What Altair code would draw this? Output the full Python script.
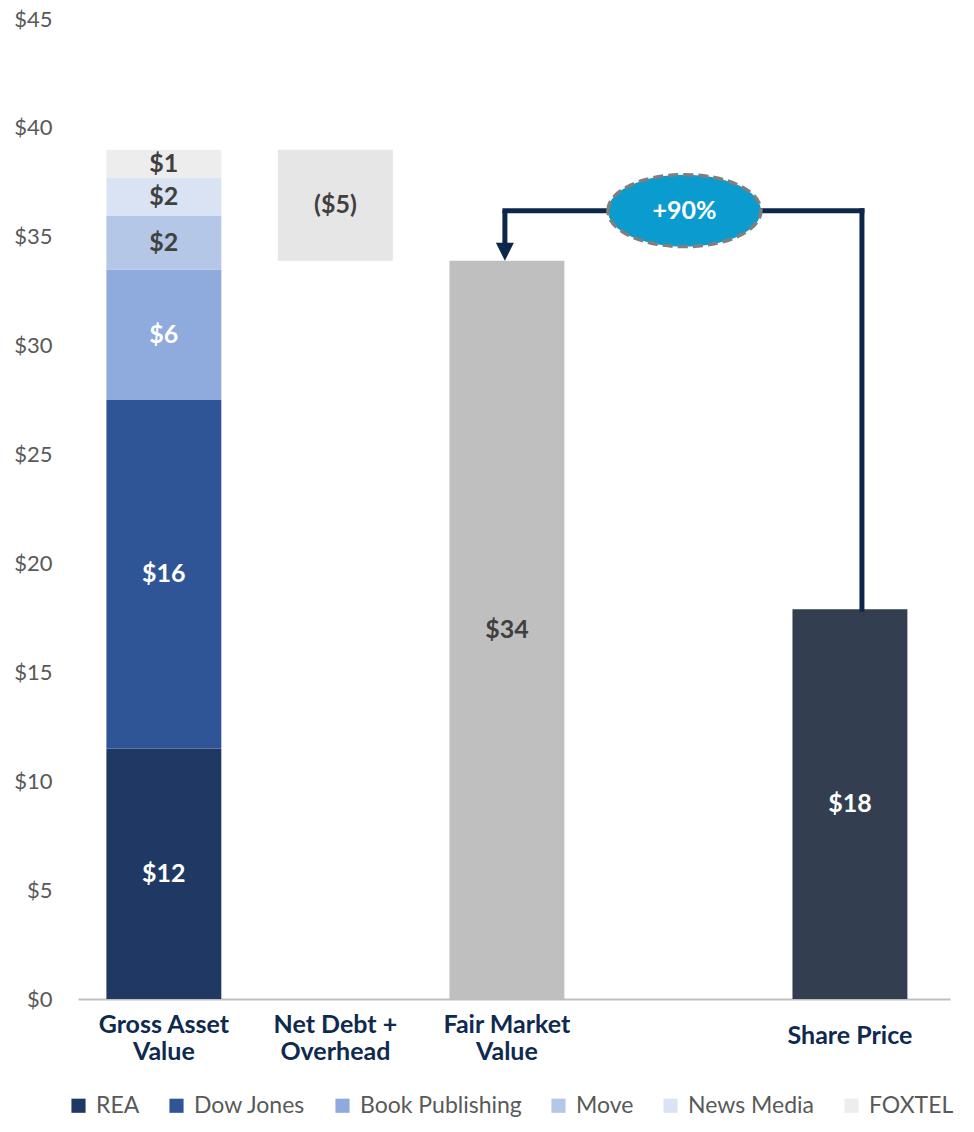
import altair as alt
import pandas as pd

# ---------------- data ----------------
categories = ["Gross Asset Value", "Net Debt + Overhead", "Fair Market Value", " ", "Share Price"]
category_lines = [["Gross Asset", "Value"], ["Net Debt +", "Overhead"], ["Fair Market", "Value"], [""], ["Share Price"]]

segments = ["REA", "Dow Jones", "Book Publishing", "Move", "News Media", "FOXTEL"]
segment_values = [11.5, 16.0, 6.0, 2.45, 1.75, 1.3]
segment_colors = ["#203864", "#2F5597", "#8FAADC", "#B4C7E7", "#DAE3F3", "#EDEDED"]
segment_text_colors = ["#FFFFFF", "#FFFFFF", "#FFFFFF", "#404040", "#404040", "#404040"]

net_debt = -5.1
share_price = 17.9
premium_label = "+90%"
bracket_level = 36.2

y_ticks = [0, 5, 10, 15, 20, 25, 30, 35, 40, 45]


def money(v):
    return f"(${abs(v):.0f})" if v < 0 else f"${v:.0f}"


# ---------------- tables ----------------
rows = []
base = 0.0
for i, (s, v, tc) in enumerate(zip(segments, segment_values, segment_text_colors)):
    rows.append(dict(category=categories[0], segment=s, y0=base, y1=base + v,
                     mid=base + v / 2, label=money(v), tcolor=tc, order=i))
    base += v
seg_df = pd.DataFrame(rows)

gav = sum(segment_values)
fmv = gav + net_debt
other_df = pd.DataFrame([
    dict(category=categories[1], y0=fmv, y1=gav, mid=(fmv + gav) / 2, label=money(net_debt),
         fill="#E7E6E6", tcolor="#404040"),
    dict(category=categories[2], y0=0, y1=fmv, mid=fmv / 2, label=money(fmv),
         fill="#BFBFBF", tcolor="#404040"),
    dict(category=categories[4], y0=0, y1=share_price, mid=share_price / 2, label=money(share_price),
         fill="#333F50", tcolor="#FFFFFF"),
])

conn_df = pd.DataFrame([dict(a=categories[2], b=categories[4], mid=categories[3],
                             level=bracket_level, fmv=fmv, sp=share_price, txt=premium_label)])

cat_df = pd.DataFrame({"category": categories, "lines": category_lines,
                       "n": [len(l) for l in category_lines]})

# ---------------- encodings ----------------
x_scale = alt.Scale(domain=categories, paddingInner=0.33, paddingOuter=0.207, align=0.4)
y_scale = alt.Scale(domain=[0, 45], nice=False)

X = alt.X("category:N", scale=x_scale, sort=categories,
          axis=alt.Axis(title=None, labels=False, ticks=False, tickSize=0,
                        domainColor="#BFBFBF", domainWidth=2))
Y = alt.Y("y0:Q", scale=y_scale,
          axis=alt.Axis(title=None, grid=False, domain=False, ticks=False, tickSize=0,
                        values=y_ticks, format="$.0f", labelFont="Lato", labelFontSize=22,
                        labelColor="#595959", labelPadding=26))

stack_bars = alt.Chart(seg_df).mark_bar().encode(
    x=X,
    y=Y,
    y2="y1:Q",
    color=alt.Color("segment:N", sort=segments,
                    scale=alt.Scale(domain=segments, range=segment_colors),
                    legend=alt.Legend(title=None, orient="none", legendX=-11, legendY=1075,
                                      direction="horizontal",
                                      symbolType="square", symbolSize=200, symbolStrokeWidth=0,
                                      labelFont="Lato", labelFontSize=23, labelColor="#595959",
                                      labelLimit=0,
                                      columnPadding=25, labelOffset=6, padding=0)),
)

other_bars = alt.Chart(other_df).mark_bar().encode(
    x=alt.X("category:N", scale=x_scale, sort=categories),
    y=alt.Y("y0:Q", scale=y_scale),
    y2="y1:Q",
    fill=alt.Fill("fill:N", scale=None),
)

text_style = dict(font="Lato", fontWeight="bold", fontSize=25, baseline="middle", align="center")
seg_text = alt.Chart(seg_df).mark_text(**text_style).encode(
    x=alt.X("category:N", scale=x_scale, sort=categories),
    y=alt.Y("mid:Q", scale=y_scale),
    text="label:N",
    color=alt.Color("tcolor:N", scale=None),
)
other_text = alt.Chart(other_df).mark_text(**text_style).encode(
    x=alt.X("category:N", scale=x_scale, sort=categories),
    y=alt.Y("mid:Q", scale=y_scale),
    text="label:N",
    color=alt.Color("tcolor:N", scale=None),
)

# category labels below the axis (two-line and single-line groups)
cat_style = dict(font="Lato", fontWeight="bold", fontSize=25, color="#0F2A4F",
                 baseline="middle", align="center", lineHeight=27)
cat_two = alt.Chart(cat_df).transform_filter("datum.n == 2").mark_text(yOffset=26, **cat_style).encode(
    x=alt.X("category:N", scale=x_scale, sort=categories),
    y=alt.datum(0, scale=y_scale),
    text="lines",
)
cat_one = alt.Chart(cat_df).transform_filter("datum.n == 1").mark_text(yOffset=37, **cat_style).encode(
    x=alt.X("category:N", scale=x_scale, sort=categories),
    y=alt.datum(0, scale=y_scale),
    text="lines",
)

navy = "#0C2749"
conn_base = alt.Chart(conn_df)
vert_sp = conn_base.mark_rule(color=navy, strokeWidth=5, xOffset=12, strokeCap="square").encode(
    x=alt.X("b:N", scale=x_scale, sort=categories, bandPosition=0.5),
    y=alt.Y("sp:Q", scale=y_scale),
    y2="level:Q",
)
horiz = conn_base.mark_rule(color=navy, strokeWidth=5, xOffset=-2, x2Offset=12, strokeCap="square").encode(
    x=alt.X("a:N", scale=x_scale, sort=categories, bandPosition=0.5),
    x2="b:N",
    y=alt.Y("level:Q", scale=y_scale),
)
vert_fmv = conn_base.mark_rule(color=navy, strokeWidth=5, xOffset=-2, y2Offset=-12).encode(
    x=alt.X("a:N", scale=x_scale, sort=categories, bandPosition=0.5),
    y=alt.Y("level:Q", scale=y_scale),
    y2="fmv:Q",
)
arrow = conn_base.mark_point(shape="M-1,-1L1,-1L0,1Z", filled=True, size=324, yOffset=-9, xOffset=-2,
                             color=navy, opacity=1).encode(
    x=alt.X("a:N", scale=x_scale, sort=categories, bandPosition=0.5),
    y=alt.Y("fmv:Q", scale=y_scale),
)
ellipse = conn_base.mark_point(shape="M-1,0A1,0.47,0,1,1,1,0A1,0.47,0,1,1,-1,0Z", filled=True,
                               size=153 * 153, fill="#0A9CCF", stroke="#7F7F7F", strokeWidth=3.5,
                               strokeDash=[10, 5], opacity=1, xOffset=6).encode(
    x=alt.X("mid:N", scale=x_scale, sort=categories, bandPosition=0.5),
    y=alt.Y("level:Q", scale=y_scale),
)
ellipse_text = conn_base.mark_text(font="Lato", fontWeight="bold", fontSize=25, color="white",
                                   baseline="middle", align="center", xOffset=6).encode(
    x=alt.X("mid:N", scale=x_scale, sort=categories, bandPosition=0.5),
    y=alt.Y("level:Q", scale=y_scale),
    text="txt:N",
)

chart = alt.layer(
    stack_bars, other_bars, seg_text, other_text, cat_two, cat_one,
    vert_sp, horiz, vert_fmv, arrow, ellipse, ellipse_text,
).properties(
    width=872, height=980,
    padding={"left": 5, "top": 0, "right": 5, "bottom": 0},
    background="white",
).configure_view(stroke=None)

chart.save("out.html", embed_options={"renderer": "svg", "actions": False})
